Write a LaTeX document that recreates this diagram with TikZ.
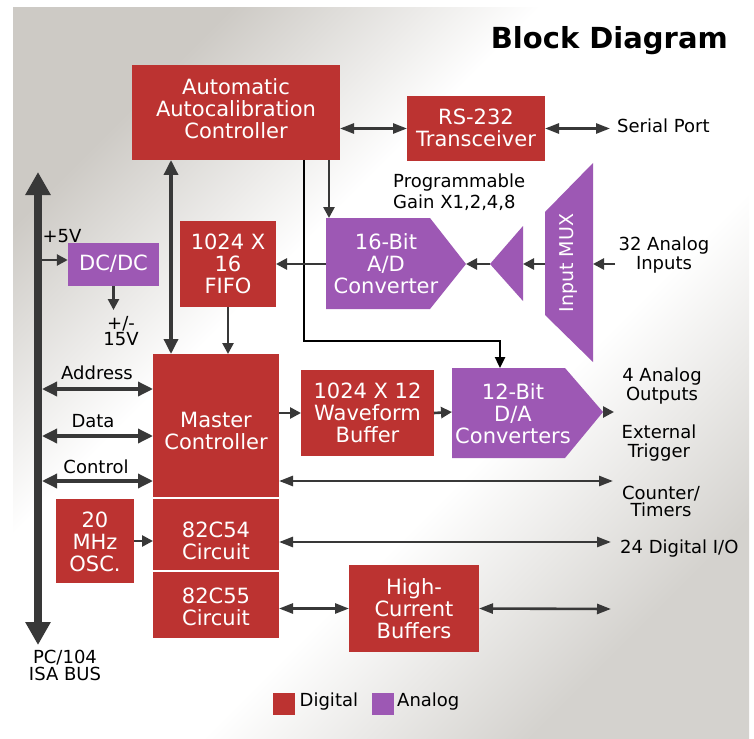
\documentclass[tikz,border=0pt]{standalone}
\usepackage{fontspec}
\setmainfont{DejaVu Sans}
\usetikzlibrary{arrows.meta}
\definecolor{digred}{RGB}{188,51,49}
\definecolor{anapur}{RGB}{157,88,180}
\definecolor{arrgray}{RGB}{56,56,56}
\definecolor{bgA}{RGB}{205,202,197}
\definecolor{bgB}{RGB}{212,210,206}
\pgfdeclareverticalshading{bgshade}{100bp}{color(0bp)=(bgB); color(25bp)=(bgB); color(41bp)=(white); color(60bp)=(white); color(75bp)=(bgA); color(100bp)=(bgA)}
\newcommand\btf{\fontsize{21}{22}\selectfont}
\newcommand\lbf{\fontsize{18}{18.5}\selectfont}
\tikzset{
  dig/.style={fill=digred, draw=none, inner sep=0pt, outer sep=0pt},
  ana/.style={fill=anapur, draw=none},
  btxt/.style={font=\btf, text=white, align=center, inner sep=0pt},
  lbl/.style={font=\lbf, text=black, align=center, inner sep=0pt},
  arr/.style={draw=arrgray, line width=2.6pt, -{Triangle[length=11pt,width=11pt]}},
  darr/.style={draw=arrgray, line width=2.6pt, {Triangle[length=14pt,width=10pt]}-{Triangle[length=14pt,width=10pt]}},
  bigd/.style={draw=arrgray, line width=3.4pt, {Triangle[length=15pt,width=14pt]}-{Triangle[length=15pt,width=14pt]}},
  busarr/.style={draw=arrgray, line width=8pt, {Triangle[length=23pt,width=24pt]}-{Triangle[length=23pt,width=24pt]}},
  blkarr/.style={draw=black, line width=2.4pt, -{Triangle[length=11pt,width=10pt]}},
  sep/.style={draw=white, line width=2.6pt}
}
\begin{document}
\begin{tikzpicture}[x=1pt,y=-1pt]
\useasboundingbox (0,0) rectangle (754,738);
\shade[shading=bgshade, shading angle=45] (13,8) rectangle (749,738);

% title
\node[anchor=base east, font=\fontsize{29}{29}\selectfont\bfseries, inner sep=0pt] (title) at (728,48.5) {Block Diagram};

% rectangular blocks
\node[dig, minimum width=208, minimum height=95] (auto) at (236,112.5) {};
\node[btxt] (autot) at (236,108.5) {Automatic\\Autocalibration\\Controller};
\node[dig, minimum width=138, minimum height=65] (rs) at (476,128.5) {};
\node[btxt] (rst) at (476,127.5) {RS-232\\Transceiver};
\node[ana, minimum width=91, minimum height=43, inner sep=0pt] (dcdc) at (113.5,264.5) {};
\node[btxt] (dcdct) at (113.5,264) {DC/DC};
\node[dig, minimum width=96, minimum height=86] (fifo) at (228,264) {};
\node[btxt] (fifot) at (228,264) {1024 X\\16\\FIFO};
\node[dig, minimum width=126, minimum height=144] (master) at (216,426) {};
\node[btxt] (mastert) at (216,431) {Master\\Controller};
\node[dig, minimum width=126, minimum height=73] (c54) at (216,534.5) {};
\node[btxt] (c54t) at (216,541) {82C54\\Circuit};
\node[dig, minimum width=126, minimum height=67] (c55) at (216,604.5) {};
\node[btxt] (c55t) at (216,607) {82C55\\Circuit};
\draw[sep] (master.south west) -- (master.south east);
\draw[sep] (c54.south west) -- (c54.south east);
\node[dig, minimum width=133, minimum height=86] (wave) at (367.5,413) {};
\node[btxt] (wavet) at (367.5,412.5) {1024 X 12\\Waveform\\Buffer};
\node[dig, minimum width=78, minimum height=84] (osc) at (95,541) {};
\node[btxt] (osct) at (95,541.5) {20\\MHz\\OSC.};
\node[dig, minimum width=130, minimum height=87] (hcb) at (414,608.5) {};
\node[btxt] (hcbt) at (414,608.5) {High-\\Current\\Buffers};

% analog shapes
\fill[anapur] (326,218) -- (430,218) -- (466,264) -- (430,309) -- (326,309) -- cycle;
\node[btxt] (adct) at (386,264) {16-Bit\\A/D\\Converter};
\fill[anapur] (490,264) -- (523,226) -- (523,301) -- cycle;
\fill[anapur] (545,212) -- (593,163) -- (593,362) -- (545,315) -- cycle;
\node[font=\fontsize{19}{19}\selectfont, text=white, rotate=90, inner sep=0pt] (muxt) at (569,263) {Input MUX};
\fill[anapur] (452,368) -- (565,368) -- (603,412) -- (565,458) -- (452,458) -- cycle;
\node[btxt] (dact) at (513,414) {12-Bit\\D/A\\Converters};

% coordinates of shape ports
\coordinate (adcN) at (329,218);
\coordinate (adcW) at (326,264);
\coordinate (adcE) at (466,264);
\coordinate (ampW) at (490,264);
\coordinate (ampE) at (523,264);
\coordinate (muxW) at (545,264);
\coordinate (muxE) at (593,264);
\coordinate (inS) at (615,264);
\coordinate (dacN) at (500,368);
\coordinate (dacW) at (452,412);
\coordinate (dacE) at (603,412);
\coordinate (outA) at (614,412);
\coordinate (turn) at (500,341);
\coordinate (x171) at (171,0);
\coordinate (x304) at (304,0);
\coordinate (x329) at (329,0);
\coordinate (bustop) at (38,172);
\coordinate (busbot) at (38,645);
\coordinate (b5) at (38,260);
\coordinate (pmtop) at (121,310);
\coordinate (serE) at (610,128.5);
\coordinate (ctE) at (613,481);
\coordinate (dioE) at (611,542);
\coordinate (hcbE) at (611,609);
\coordinate (busA) at (42,389);
\coordinate (busD) at (42,436);
\coordinate (busC) at (42,481);

% labels
\node[lbl, anchor=west] (serial) at (617,126) {Serial Port};
\node[lbl, align=left, anchor=west, font=\fontsize{18}{21}\selectfont] (pga) at (393,192.5) {Programmable\\Gain X1,2,4,8};
\node[lbl] (ain) at (664,255) {32 Analog\\Inputs};
\node[lbl] (aout) at (662,386) {4 Analog\\Outputs};
\node[lbl, font=\fontsize{18}{19}\selectfont] (trig) at (659,443.5) {External\\Trigger};
\node[lbl, font=\fontsize{18}{17.5}\selectfont] (ctr) at (661,501.5) {Counter/\\Timers};
\node[lbl, anchor=west] (dio) at (620,549) {24 Digital I/O};
\node[lbl] (p5) at (62,236) {+5V};
\node[lbl, font=\fontsize{18}{16.5}\selectfont] (pm15) at (121,331) {+/-\\15V};
\node[lbl] (addr) at (97,373) {Address};
\node[lbl] (data) at (93,421) {Data};
\node[lbl] (ctrl) at (96,467) {Control};
\node[lbl, font=\fontsize{18}{17}\selectfont] (isa) at (65,665) {PC/104\\ISA BUS};

% legend
\node[dig, minimum size=22] (legd) at (284,704) {};
\node[lbl, anchor=west] (legdt) at (299.5,702) {Digital};
\node[ana, minimum size=22, inner sep=0pt] (lega) at (382.5,704) {};
\node[lbl, anchor=west] (legat) at (397,702) {Analog};

% connectors
\draw[busarr] (bustop) -- (busbot);
\draw[arr] (b5) -- (b5 -| dcdc.west);
\draw[arr] (dcdc.south) -- (dcdc.south |- pmtop);
\draw[bigd] (auto.south -| x171) -- (master.north -| x171);
\draw[darr] (rs.west -| auto.east) -- (rs.west);
\draw[darr] (rs.east) -- (serE);
\draw[arr] (auto.south -| x329) -- (adcN);
\draw[blkarr] (auto.south -| x304) |- (turn) -- (dacN);
\draw[arr] (adcW) -- (fifo.east);
\draw[arr] (fifo.south) -- (master.north -| fifo.south);
\draw[arr] (ampW) -- (adcE);
\draw[arr] (muxW) -- (ampE);
\draw[arr] (inS) -- (muxE);
\draw[arr] (master.east |- wave.west) -- (wave.west);
\draw[arr] (wave.east) -- (dacW);
\draw[arr] (dacE) -- (outA);
\draw[bigd] (busA) -- (busA -| master.west);
\draw[bigd] (busD) -- (busD -| master.west);
\draw[bigd] (busC) -- (busC -| master.west);
\draw[darr] (ctE -| master.east) -- (ctE);
\draw[darr] (dioE -| c54.east) -- (dioE);
\draw[arr] (osc.east |- c54t) -- (osc.east -| c54.west);
\draw[darr] (hcb.west -| c55.east) -- (hcb.west);
\draw[darr] (hcb.east) -- (hcbE);
\end{tikzpicture}
\end{document}
